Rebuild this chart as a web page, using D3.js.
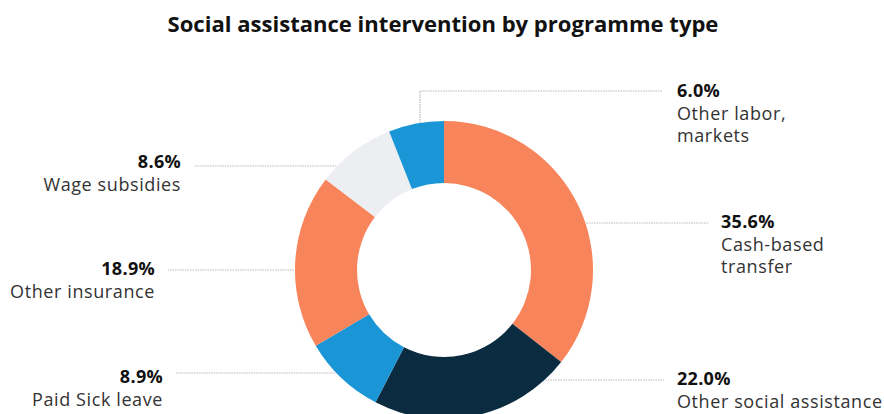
<!DOCTYPE html>
<html>
<head>
<meta charset="utf-8">
<script src="https://cdn.jsdelivr.net/npm/d3@7"></script>
<style>
  html, body { margin: 0; padding: 0; background: #fff; }
  svg { display: block; font-family: "Open Sans", sans-serif; }
</style>
</head>
<body>
<svg id="chart" width="884" height="414"></svg>
<script>
// ---- data ----
const categories = ["Cash-based transfer", "Other social assistance", "Paid Sick leave", "Other insurance", "Wage subsidies", "Other labor, markets"];
const values = [35.6, 22.0, 8.9, 18.9, 8.6, 6.0];
const labelLines = [["Cash-based", "transfer"], ["Other social assistance"], ["Paid Sick leave"], ["Other insurance"], ["Wage subsidies"], ["Other labor,", "markets"]];
const colors = ["#F7845A", "#0B2B40", "#1A95D6", "#F7845A", "#ECEEF2", "#1A95D6"];
const title = "Social assistance intervention by programme type";

// ---- layout ----
const W = 884, H = 414;
const cx = 444, cy = 270, R = 149, r = 87;
// label anchors: side, line y, text x, percent baseline
const layout = [
  { side: "right", ly: 223, tx: 721, py: 228 },
  { side: "right", ly: 380, tx: 677, py: 385 },
  { side: "left",  ly: 373, tx: 163, py: 383 },
  { side: "left",  ly: 270, tx: 155, py: 275 },
  { side: "left",  ly: 166, tx: 181, py: 168 },
  { side: "right", ly: 91,  tx: 677, py: 97, vertical: 420 }
];

const svg = d3.select("#chart");

// title
const t = svg.append("text")
  .attr("x", W / 2 + 1).attr("y", 32)
  .attr("text-anchor", "middle")
  .attr("font-weight", 700)
  .attr("font-size", 20)
  .attr("fill", "#111")
  .text(title);
// fit title to reference width
const tw = t.node().getComputedTextLength();
t.attr("font-size", 20 * 551 / tw);

const pie = d3.pie().sort(null).value(d => d)
  .startAngle(0).endAngle(2 * Math.PI);
const arcs = pie(values);
const arc = d3.arc().innerRadius(r).outerRadius(R);

const g = svg.append("g").attr("transform", `translate(${cx},${cy})`);
g.selectAll("path").data(arcs).join("path")
  .attr("d", arc)
  .attr("fill", (d, i) => colors[i]);

// leader lines
const lines = svg.append("g")
  .attr("stroke", "#b8b8b8")
  .attr("stroke-width", 1.2)
  .attr("stroke-dasharray", "1.5,1")
  .attr("fill", "none");

layout.forEach((L, i) => {
  if (L.vertical !== undefined) {
    const dx = L.vertical - cx;
    const yEdge = cy - Math.sqrt(R * R - dx * dx);
    lines.append("path")
      .attr("d", `M${L.vertical},${yEdge} V${L.ly} H${L.tx - 15}`);
  } else {
    const dy = L.ly - cy;
    const xOff = Math.sqrt(Math.max(0, R * R - dy * dy));
    const xEdge = L.side === "right" ? cx + xOff + 1 : cx - xOff - 1;
    const xEnd = L.side === "right" ? L.tx - 13 : L.tx + 13;
    lines.append("line")
      .attr("x1", xEdge).attr("y1", L.ly)
      .attr("x2", xEnd).attr("y2", L.ly);
  }
});

// labels
const fmt = d3.format(".1f");
layout.forEach((L, i) => {
  const anchor = L.side === "right" ? "start" : "end";
  svg.append("text")
    .attr("text-anchor", anchor)
    .attr("x", L.tx).attr("y", L.py)
    .attr("font-weight", 700)
    .attr("font-size", 18)
    .attr("letter-spacing", 0.3)
    .attr("fill", "#111")
    .text(fmt(values[i]) + "%");
  labelLines[i].forEach((ln, j) => {
    svg.append("text")
      .attr("text-anchor", anchor)
      .attr("x", L.tx).attr("y", L.py + 23 + j * 22)
      .attr("font-size", 18)
      .attr("letter-spacing", 0.6)
      .attr("fill", "#333")
      .text(ln);
  });
});
</script>
</body>
</html>
